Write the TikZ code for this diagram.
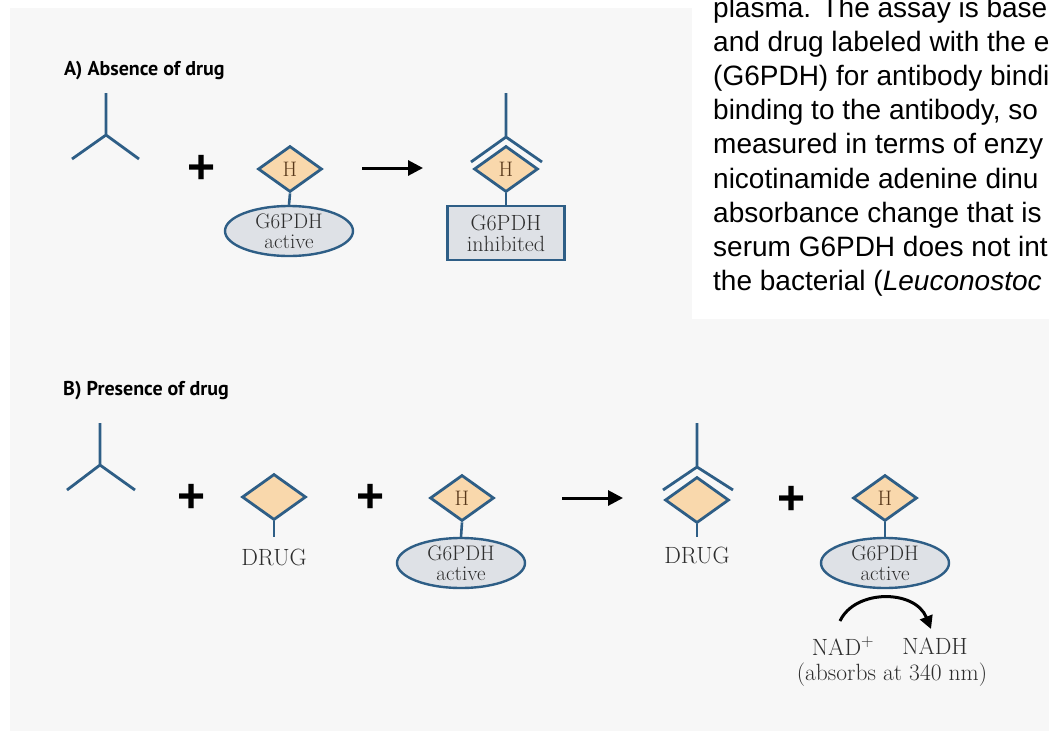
\documentclass[tikz,border=0pt]{standalone}
\usepackage{fontspec}
\usepackage{tikz}
\usetikzlibrary{shapes.geometric, arrows.meta}
\newfontfamily\titlefont{PT Sans}
\newfontfamily\notefont{Liberation Sans}
\definecolor{abBlue}{RGB}{46,94,134}
\definecolor{hapFill}{RGB}{249,216,172}
\definecolor{enzFill}{RGB}{222,225,230}
\definecolor{bgGray}{RGB}{247,247,247}
\definecolor{hBrown}{RGB}{88,56,26}
\definecolor{labGray}{RGB}{45,45,45}

\begin{document}
\begin{tikzpicture}[x=1pt,y=1pt,yscale=-1,xscale=1,
  antibody/.style={draw=abBlue, line width=2.8pt},
  stem/.style={draw=abBlue, line width=2.6pt},
  hapten/.style={shape=diamond, draw=abBlue, fill=hapFill, line width=2.8pt, minimum width=64pt, minimum height=46pt, inner sep=0pt, text=hBrown, font=\fontsize{21}{21}\selectfont},
  enzyme/.style={shape=ellipse, draw=abBlue, fill=enzFill, line width=2.4pt, minimum width=128pt, minimum height=50pt, inner sep=0pt, align=center, text=labGray, font=\fontsize{21}{20.5}\selectfont},
  enzbox/.style={rectangle, draw=abBlue, fill=enzFill, line width=2.4pt, minimum width=117pt, minimum height=54pt, inner sep=0pt, align=center, text=labGray, font=\fontsize{22}{21}\selectfont},
  plussign/.style={inner sep=0pt, font=\notefont\bfseries\fontsize{48}{48}\selectfont},
  rxnarrow/.style={line width=3pt, -{Triangle[length=15pt,width=15pt]}},
  paneltitle/.style={anchor=west, inner sep=0pt, font=\titlefont\bfseries\fontsize{20}{20}\selectfont},
  caplabel/.style={inner sep=0pt, text=labGray, font=\fontsize{23.5}{23.5}\selectfont},
  sidenote/.style={anchor=base west, inner sep=0pt, font=\notefont\fontsize{28}{34}\selectfont}
]
\useasboundingbox (0,0) rectangle (1049,731);
%Shape: Background
\fill[white] (0,0) rectangle (1049,731);
\fill[bgGray] (10,8) rectangle (1049,731);

%Panel A
% Text Node
\node[paneltitle] (ttlA) at (64,71) {A) Absence of drug};
%Shape: Antibody
\draw[antibody] (106,93) -- (106,135) (72,159) -- (106,135) -- (139,159);
\node[plussign] (plA) at (202,169) {+};
\node[hapten] (hA) at (290,169) {H};
\node[enzyme] (gA) at (289,231) {G6PDH\\active};
\draw[stem] (hA.south) -- (gA.north);
%Straight Lines
\coordinate (arA1) at (362,168);
\coordinate (arA2) at (423,168);
\draw[rxnarrow] (arA1) -- (arA2);
%Shape: Bound antibody
\node[hapten] (hAb) at (506,169) {H};
\draw[antibody] (506,93) -- (506,137) (471,162) -- (506,137) -- (542,162);
\node[enzbox] (gAb) at (506,233) {G6PDH\\inhibited};
\draw[stem] (hAb.south) -- (gAb.north);

%Panel B
% Text Node
\node[paneltitle] (ttlB) at (63,391) {B) Presence of drug};
%Shape: Antibody
\draw[antibody] (100,423) -- (100,465) (67,490) -- (100,465) -- (135,490);
\node[plussign] (plB1) at (192,498) {+};
\node[hapten] (dB) at (274,497) {};
\coordinate (dBs) at (274,537);
\draw[stem] (dB.south) -- (dBs);
\node[caplabel] (dBl) at (274,557) {DRUG};
\node[plussign] (plB2) at (371,498) {+};
\node[hapten] (hB) at (462,498) {H};
\node[enzyme] (gB) at (461,563) {G6PDH\\active};
\draw[stem] (hB.south) -- (gB.north);
%Straight Lines
\coordinate (arB1) at (562,498);
\coordinate (arB2) at (623,498);
\draw[rxnarrow] (arB1) -- (arB2);
%Shape: Bound antibody
\node[hapten] (dBb) at (697,500) {};
\draw[antibody] (697,423) -- (697,467) (663,490) -- (697,467) -- (733,490);
\coordinate (dBbs) at (697,537);
\draw[stem] (dBb.south) -- (dBbs);
\node[caplabel] (dBbl) at (697,555) {DRUG};
\node[plussign] (plB3) at (792,500) {+};
\node[hapten] (hBf) at (885,498) {H};
\node[enzyme] (gBf) at (885,563) {G6PDH\\active};
\draw[stem] (hBf.south) -- (gBf.north);
%Curved arrow
\coordinate (cvS) at (840,621);
\coordinate (cvE) at (931,629);
\draw[line width=3pt, -{Triangle[length=13pt,width=13pt]}] (cvS) .. controls (855,589) and (915,589) .. (cvE);
% Text Node
\node[caplabel] (nadp) at (843,646) {NAD$^{+}$};
\node[caplabel] (nadh) at (935,646) {NADH};
\node[caplabel] (absb) at (892,675) {(absorbs at 340 nm)};

%Shape: Text box
\fill[white] (692,0) rectangle (1049,319);
\node[sidenote] (ln1) at (713,17) {plasma. The assay is base};
\node[sidenote] (ln2) at (713,51.2) {and drug labeled with the e};
\node[sidenote] (ln3) at (713,85.4) {(G6PDH) for antibody bindi};
\node[sidenote] (ln4) at (713,119.6) {binding to the antibody, so};
\node[sidenote] (ln5) at (713,153.8) {measured in terms of enzy};
\node[sidenote] (ln6) at (713,188) {nicotinamide adenine dinu};
\node[sidenote] (ln7) at (713,222.2) {absorbance change that is};
\node[sidenote] (ln8) at (713,256.4) {serum G6PDH does not int};
\node[sidenote] (ln9) at (713,290.6) {the bacterial (\textit{Leuconostoc}};
\end{tikzpicture}
\end{document}
